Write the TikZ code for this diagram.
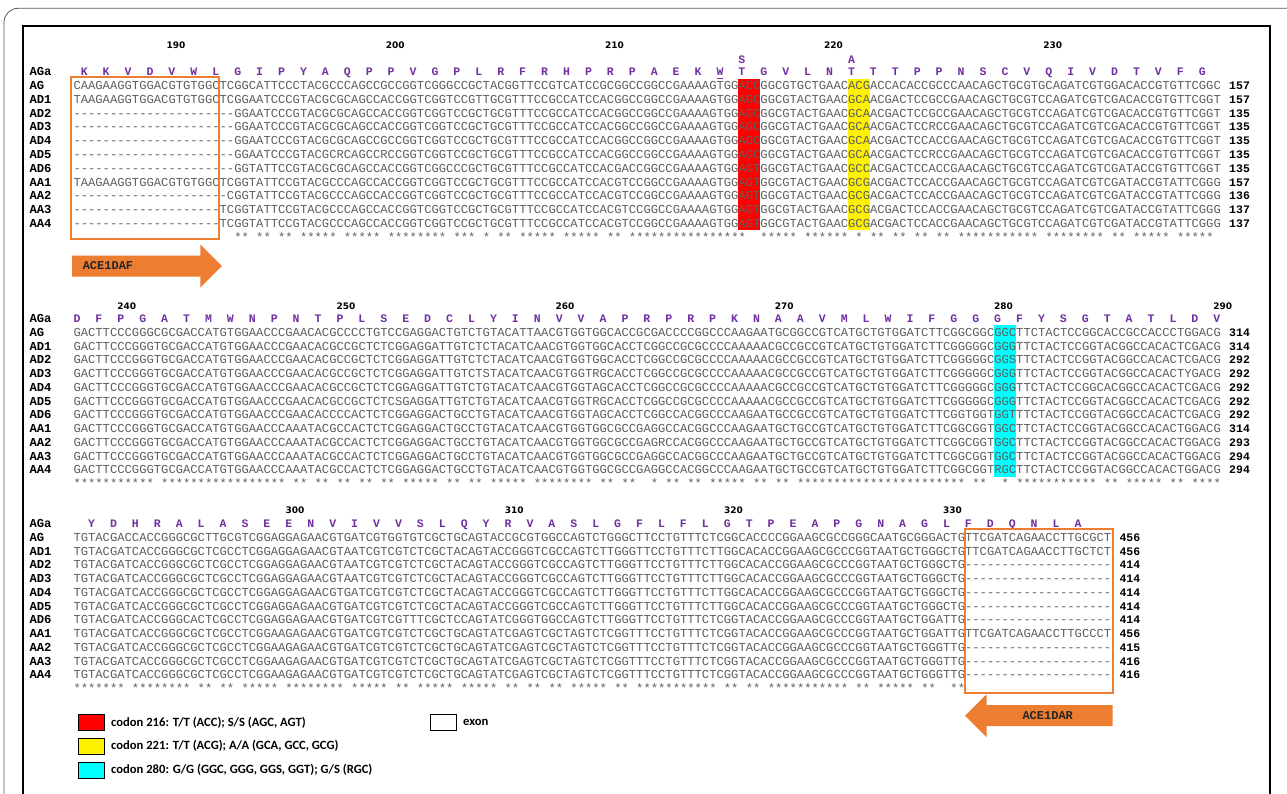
\documentclass[tikz,border=0pt]{standalone}
\usepackage{fontspec}
\setmonofont{Liberation Mono}
\newfontfamily\numfont{DejaVu Sans}
\newfontfamily\lgfont{Carlito}
\definecolor{seqgray}{RGB}{95,95,95}
\definecolor{aapurple}{RGB}{112,48,160}
\definecolor{orng}{RGB}{237,125,49}
\definecolor{hlcyan}{RGB}{0,255,255}
\definecolor{framegray}{RGB}{90,90,90}

% ---------------- block 1 ----------------
\def\Aag{%
CAAGAAGGTGGACGTGTGGCTCGGCATTCCCTACGCCCAGCCGCCGGTCG%
GGCCGCTACGGTTCCGTCATCCGCGGCCGGCCGAAAAGTGGACCGGCGTGCTGAACACG%
ACCACACCGCCCAACAGCTGCGTGCAGATCGTGGACACCGTGTTCGGC}
\def\Aadi{%
TAAGAAGGTGGACGTGTGGCTCGGAATCCCGTACGCGCAGCCACCGGTCG%
GTCCGTTGCGTTTCCGCCATCCACGGCCGGCCGAAAAGTGGAGCGGCGTACTGAACGCA%
ACGACTCCGCCGAACAGCTGCGTCCAGATCGTCGACACCGTGTTCGGT}
\def\Aadii{%
----------------------GGAATCCCGTACGCGCAGCCACCGGTCG%
GTCCGCTGCGTTTCCGCCATCCACGGCCGGCCGAAAAGTGGAGCGGCGTACTGAACGCA%
ACGACTCCGCCGAACAGCTGCGTCCAGATCGTCGACACCGTGTTCGGT}
\def\Aadiii{%
----------------------GGAATCCCGTACGCGCAGCCACCGGTCG%
GTCCGCTGCGTTTCCGCCATCCACGGCCGGCCGAAAAGTGGAGCGGCGTACTGAACGCA%
ACGACTCCRCCGAACAGCTGCGTCCAGATCGTCGACACCGTGTTCGGT}
\def\Aadiv{%
----------------------GGAATCCCGTACGCGCAGCCGCCGGTCG%
GTCCGCTGCGTTTCCGCCATCCACGGCCGGCCGAAAAGTGGAGCGGCGTACTGAACGCA%
ACGACTCCACCGAACAGCTGCGTCCAGATCGTCGACACCGTGTTCGGT}
\def\Aadv{%
----------------------GGAATCCCGTACGCRCAGCCRCCGGTCG%
GTCCGCTGCGTTTCCGCCATCCACGGCCGGCCGAAAAGTGGAGCGGCGTACTGAACGCA%
ACGACTCCRCCGAACAGCTGCGTCCAGATCGTCGACACCGTGTTCGGT}
\def\Aadvi{%
----------------------GGTATTCCGTACGCGCAGCCACCGGTCG%
GCCCGCTGCGTTTCCGCCATCCACGACCGGCCGAAAAGTGGAGTGGCGTACTGAACGCC%
ACGACTCCACCGAACAGCTGCGTCCAGATCGTCGATACCGTGTTCGGT}
\def\Aaai{%
TAAGAAGGTGGACGTGTGGCTCGGTATTCCGTACGCCCAGCCACCGGTCG%
GTCCGCTGCGTTTCCGCCATCCACGTCCGGCCGAAAAGTGGAGTGGCGTACTGAACGCG%
ACGACTCCACCGAACAGCTGCGTCCAGATCGTCGATACCGTATTCGGG}
\def\Aaaii{%
---------------------CGGTATTCCGTACGCCCAGCCACCGGTCG%
GTCCGCTGCGTTTCCGCCATCCACGTCCGGCCGAAAAGTGGAGTGGCGTACTGAACGCG%
ACGACTCCACCGAACAGCTGCGTCCAGATCGTCGATACCGTATTCGGG}
\def\Aaaiii{%
--------------------TCGGTATTCCGTACGCCCAGCCACCGGTCG%
GTCCGCTGCGTTTCCGCCATCCACGTCCGGCCGAAAAGTGGAGTGGCGTACTGAACGCG%
ACGACTCCACCGAACAGCTGCGTCCAGATCGTCGATACCGTATTCGGG}
\def\Aaaiv{%
--------------------TCGGTATTCCGTACGCCCAGCCACCGGTCG%
GTCCGCTGCGTTTCCGCCATCCACGTCCGGCCGAAAAGTGGAGTGGCGTACTGAACGCG%
ACGACTCCACCGAACAGCTGCGTCCAGATCGTCGATACCGTATTCGGG}

% ---------------- block 2 ----------------
\def\Bag{%
GACTTCCCGGGCGCGACCATGTGGAACCCGAACACGCCCCTGTCCGAGGA%
CTGTCTGTACATTAACGTGGTGGCACCGCGACCCCGGCCCAAGAATGCGGCCGTCATGC%
TGTGGATCTTCGGCGGCGGCTTCTACTCCGGCACCGCCACCCTGGACG}
\def\Badi{%
GACTTCCCGGGTGCGACCATGTGGAACCCGAACACGCCGCTCTCGGAGGA%
TTGTCTCTACATCAACGTGGTGGCACCTCGGCCGCGCCCCAAAAACGCCGCCGTCATGC%
TGTGGATCTTCGGGGGCGGGTTCTACTCCGGTACGGCCACACTCGACG}
\def\Badii{%
GACTTCCCGGGTGCGACCATGTGGAACCCGAACACGCCGCTCTCGGAGGA%
TTGTCTCTACATCAACGTGGTGGCACCTCGGCCGCGCCCCAAAAACGCCGCCGTCATGC%
TGTGGATCTTCGGGGGCGGSTTCTACTCCGGTACGGCCACACTCGACG}
\def\Badiii{%
GACTTCCCGGGTGCGACCATGTGGAACCCGAACACGCCGCTCTCGGAGGA%
TTGTCTSTACATCAACGTGGTRGCACCTCGGCCGCGCCCCAAAAACGCCGCCGTCATGC%
TGTGGATCTTCGGGGGCGGGTTCTACTCCGGTACGGCCACACTYGACG}
\def\Badiv{%
GACTTCCCGGGTGCGACCATGTGGAACCCGAACACGCCGCTCTCGGAGGA%
TTGTCTGTACATCAACGTGGTAGCACCTCGGCCGCGCCCCAAAAACGCCGCCGTCATGC%
TGTGGATCTTCGGGGGCGGGTTCTACTCCGGCACGGCCACACTCGACG}
\def\Badv{%
GACTTCCCGGGTGCGACCATGTGGAACCCGAACACGCCGCTCTCSGAGGA%
TTGTCTGTACATCAACGTGGTRGCACCTCGGCCGCGCCCCAAAAACGCCGCCGTCATGC%
TGTGGATCTTCGGGGGCGGGTTCTACTCCGGTACGGCCACACTCGACG}
\def\Badvi{%
GACTTCCCGGGTGCGACCATGTGGAACCCGAACACCCCACTCTCGGAGGA%
CTGCCTGTACATCAACGTGGTAGCACCTCGGCCACGGCCCAAGAATGCCGCCGTCATGC%
TGTGGATCTTCGGTGGTGGTTTCTACTCCGGTACGGCCACACTCGACG}
\def\Baai{%
GACTTCCCGGGTGCGACCATGTGGAACCCAAATACGCCACTCTCGGAGGA%
CTGCCTGTACATCAACGTGGTGGCGCCGAGGCCACGGCCCAAGAATGCTGCCGTCATGC%
TGTGGATCTTCGGCGGTGGCTTCTACTCCGGTACGGCCACACTGGACG}
\def\Baaii{%
GACTTCCCGGGTGCGACCATGTGGAACCCAAATACGCCACTCTCGGAGGA%
CTGCCTGTACATCAACGTGGTGGCGCCGAGRCCACGGCCCAAGAATGCTGCCGTCATGC%
TGTGGATCTTCGGCGGTGGCTTCTACTCCGGTACGGCCACACTGGACG}
\def\Baaiii{%
GACTTCCCGGGTGCGACCATGTGGAACCCAAATACGCCACTCTCGGAGGA%
CTGCCTGTACATCAACGTGGTGGCGCCGAGGCCACGGCCCAAGAATGCTGCCGTCATGC%
TGTGGATCTTCGGCGGTGGCTTCTACTCCGGTACGGCCACACTGGACG}
\def\Baaiv{%
GACTTCCCGGGTGCGACCATGTGGAACCCAAATACGCCACTCTCGGAGGA%
CTGCCTGTACATCAACGTGGTGGCGCCGAGGCCACGGCCCAAGAATGCTGCCGTCATGC%
TGTGGATCTTCGGCGGTRGCTTCTACTCCGGTACGGCCACACTGGACG}

% ---------------- block 3 ----------------
\def\Cag{%
TGTACGACCACCGGGCGCTTGCGTCGGAGGAGAACGTGATCGTGGTGTCG%
CTGCAGTACCGCGTGGCCAGTCTGGGCTTCCTGTTTCTCGGCACCCCGGAAGCGCCGGG%
CAATGCGGGACTGTTCGATCAGAACCTTGCGCT}
\def\Cadi{%
TGTACGATCACCGGGCGCTCGCCTCGGAGGAGAACGTAATCGTCGTCTCG%
CTACAGTACCGGGTCGCCAGTCTTGGGTTCCTGTTTCTTGGCACACCGGAAGCGCCCGG%
TAATGCTGGGCTGTTCGATCAGAACCTTGCTCT}
\def\Cadii{%
TGTACGATCACCGGGCGCTCGCCTCGGAGGAGAACGTAATCGTCGTCTCG%
CTACAGTACCGGGTCGCCAGTCTTGGGTTCCTGTTTCTTGGCACACCGGAAGCGCCCGG%
TAATGCTGGGCTG--------------------}
\def\Cadiii{%
TGTACGATCACCGGGCGCTCGCCTCGGAGGAGAACGTAATCGTCGTCTCG%
CTACAGTACCGGGTCGCCAGTCTTGGGTTCCTGTTTCTTGGCACACCGGAAGCGCCCGG%
TAATGCTGGGCTG--------------------}
\def\Cadiv{%
TGTACGATCACCGGGCGCTCGCCTCGGAGGAGAACGTGATCGTCGTCTCG%
CTACAGTACCGGGTCGCCAGTCTTGGGTTCCTGTTTCTTGGCACACCGGAAGCGCCCGG%
TAATGCTGGGCTG--------------------}
\def\Cadv{%
TGTACGATCACCGGGCGCTCGCCTCGGAGGAGAACGTGATCGTCGTCTCG%
CTACAGTACCGGGTCGCCAGTCTTGGGTTCCTGTTTCTTGGCACACCGGAAGCGCCCGG%
TAATGCTGGGCTG--------------------}
\def\Cadvi{%
TGTACGATCACCGGGCACTCGCCTCGGAGGAGAACGTGATCGTCGTTTCG%
CTCCAGTATCGGGTGGCCAGTCTTGGGTTCCTGTTTCTCGGTACACCGGAAGCGCCCGG%
TAATGCTGGATTG--------------------}
\def\Caai{%
TGTACGATCACCGGGCGCTCGCCTCGGAAGAGAACGTGATCGTCGTCTCG%
CTGCAGTATCGAGTCGCTAGTCTCGGTTTCCTGTTTCTCGGTACACCGGAAGCGCCCGG%
TAATGCTGGATTGTTCGATCAGAACCTTGCCCT}
\def\Caaii{%
TGTACGATCACCGGGCGCTCGCCTCGGAAGAGAACGTGATCGTCGTCTCG%
CTGCAGTATCGAGTCGCTAGTCTCGGTTTCCTGTTTCTCGGTACACCGGAAGCGCCCGG%
TAATGCTGGGTTG--------------------}
\def\Caaiii{%
TGTACGATCACCGGGCGCTCGCCTCGGAAGAGAACGTGATCGTCGTCTCG%
CTGCAGTATCGAGTCGCTAGTCTCGGTTTCCTGTTTCTCGGTACACCGGAAGCGCCCGG%
TAATGCTGGGTTG--------------------}
\def\Caaiv{%
TGTACGATCACCGGGCGCTCGCCTCGGAAGAGAACGTGATCGTCGTCTCG%
CTGCAGTATCGAGTCGCTAGTCTCGGTTTCCTGTTTCTCGGTACACCGGAAGCGCCCGG%
TAATGCTGGGTTG--------------------}

\ExplSyntaxOn
\seq_new:N \l__cons_rows_seq
\tl_new:N \l__cons_first_tl
\tl_new:N \l__cons_out_tl
\bool_new:N \l__cons_ok_bool
\cs_generate_variant:Nn \seq_set_from_clist:Nn { Ne }
\NewDocumentCommand \ConsLine { m }
  {
    \seq_set_from_clist:Ne \l__cons_rows_seq
      {
        \use:c {#1ag}, \use:c {#1adi}, \use:c {#1adii}, \use:c {#1adiii},
        \use:c {#1adiv}, \use:c {#1adv}, \use:c {#1advi}, \use:c {#1aai},
        \use:c {#1aaii}, \use:c {#1aaiii}, \use:c {#1aaiv}
      }
    \seq_get_left:NN \l__cons_rows_seq \l__cons_first_tl
    \tl_clear:N \l__cons_out_tl
    \int_step_inline:nn { \tl_count:N \l__cons_first_tl }
      {
        \bool_set_true:N \l__cons_ok_bool
        \str_if_eq:eeT { \tl_item:Nn \l__cons_first_tl {##1} } { - }
          { \bool_set_false:N \l__cons_ok_bool }
        \seq_map_inline:Nn \l__cons_rows_seq
          {
            \str_if_eq:eeF { \tl_item:nn {####1} {##1} }
              { \tl_item:Nn \l__cons_first_tl {##1} }
              { \bool_set_false:N \l__cons_ok_bool }
          }
        \bool_if:NTF \l__cons_ok_bool
          { \tl_put_right:Nn \l__cons_out_tl { * } }
          { \tl_put_right:Nn \l__cons_out_tl { \phantom{*} } }
      }
    \tl_use:N \l__cons_out_tl
  }
\ExplSyntaxOff

\tikzset{
  sq/.style={font=\ttfamily\fontsize{12.18}{14}\selectfont, text=seqgray, inner sep=0pt, anchor=base west},
  lbl/.style={font=\ttfamily\bfseries\fontsize{12.2}{14}\selectfont, text=black, inner sep=0pt, anchor=base west},
  cnt/.style={font=\ttfamily\bfseries\fontsize{11.5}{14}\selectfont, text=black, inner sep=0pt, anchor=base west},
  aa/.style={font=\ttfamily\bfseries\fontsize{11.5}{14}\selectfont, text=aapurple, inner sep=0pt, anchor=base},
  posn/.style={font=\numfont\bfseries\fontsize{9}{11}\selectfont, text=black, inner sep=0pt, anchor=base},
  primer/.style={font=\ttfamily\bfseries\fontsize{12}{14}\selectfont, text=black!85, inner sep=0pt},
  lgbox/.style={draw=black, line width=0.9pt},
  lgtext/.style={font=\lgfont\bfseries\fontsize{12.6}{14}\selectfont, text=black, inner sep=0pt, anchor=west},
  exonbox/.style={draw=orng, line width=2pt}
}

\newcommand\SeqBlock[4]{%
  \foreach \lab/\nm [count=\i from 0] in {AG/ag,AD1/adi,AD2/adii,AD3/adiii,AD4/adiv,AD5/adv,AD6/advi,AA1/aai,AA2/aaii,AA3/aaiii,AA4/aaiv}{
    \pgfmathsetmacro\yy{#2+13.76*\i+4}
    \node[lbl] (#1lab\i) at (29.3,\yy) {\lab};
    \node[sq] (#1row\i) at (73.3,\yy) {\csname #1\nm\endcsname};
  }
  \foreach \n [count=\i from 0] in {#4}{
    \pgfmathsetmacro\yy{#2+13.76*\i+4}
    \node[cnt] (#1cnt\i) at (#3,\yy) {\n};
  }
  \pgfmathsetmacro\yy{#2+13.76*11+4}
  \node[sq] (#1cons) at (73.3,\yy) {\ConsLine{#1}};
  \pgfmathsetmacro\yy{#2-13.76+4}
  \node[lbl] (#1aga) at (29.3,\yy) {AGa};
}
\newcommand\AArow[4]{%
  \foreach \c [count=\k from 0] in {#4}{
    \node[aa] (#1\k) at ({73.3+(#2+3*\k+0.5)*7.307},#3) {\c};
  }
}
\newcommand\PosRow[4]{%
  \foreach \n [count=\k from 0] in {#4}{
    \node[posn] (#1\k) at ({#2+219.2*\k},#3) {\n};
  }
}

\begin{document}
\begin{tikzpicture}[x=1pt,y=-1pt]
\useasboundingbox (0,0) rectangle (1287,793);
\clip (0,0) rectangle (1287,793);
\fill[white] (0,0) rectangle (1287,793);

% frames
\draw[framegray, line width=0.8pt, rounded corners=14pt] (4,850) -- (4,8.3) -- (1300,8.3);
\draw[black, line width=2.4pt] (22.7,850) -- (22.7,26) -- (1270,26) -- (1270,850);

% highlights
\fill[red] ({73.3+91*7.307},78.8) rectangle ({73.3+94*7.307},230.2);
\fill[yellow] ({73.3+106*7.307},78.8) rectangle ({73.3+109*7.307},230.2);
\fill[hlcyan] ({73.3+126*7.307},325.4) rectangle ({73.3+129*7.307},477);

% block 1
\PosRow{pA}{176}{48.3}{190,200,210,220,230}
\node[aa] (subS) at ({73.3+91.5*7.307},63) {S};
\node[aa] (subA) at ({73.3+106.5*7.307},63) {A};
\AArow{aA}{1}{75.9}{K,K,V,D,V,W,L,G,I,P,Y,A,Q,P,P,V,G,P,L,R,F,R,H,P,R,P,A,E,K,W,T,G,V,L,N,T,T,T,P,P,N,S,C,V,Q,I,V,D,T,V,F,G}
\draw[aapurple, line width=0.9pt] ({73.3+88*7.307+0.5},78) -- ({73.3+89*7.307-0.5},78);
\SeqBlock{A}{85.7}{1229}{157,157,135,135,135,135,135,157,136,137,137}

% block 2
\PosRow{pB}{126.7}{309.3}{240,250,260,270,280,290}
\AArow{aB}{0}{322.5}{D,F,P,G,A,T,M,W,N,P,N,T,P,L,S,E,D,C,L,Y,I,N,V,V,A,P,R,P,R,P,K,N,A,A,V,M,L,W,I,F,G,G,G,F,Y,S,G,T,A,T,L,D,V}
\SeqBlock{B}{332.3}{1229}{314,314,292,292,292,292,292,314,293,294,294}

% block 3
\PosRow{pC}{295}{513.3}{300,310,320,330}
\AArow{aC}{2}{527.5}{Y,D,H,R,A,L,A,S,E,E,N,V,I,V,V,S,L,Q,Y,R,V,A,S,L,G,F,L,F,L,G,T,P,E,A,P,G,N,A,G,L,F,D,Q,N,L,A}
\SeqBlock{C}{537.3}{1119.3}{456,456,414,414,414,414,414,456,415,416,416}

% exon boxes
\draw[exonbox] (71,77) rectangle (219,239);
\draw[exonbox] (965,529) rectangle (1113,693);

% primer arrows
\fill[orng] (72,255.5) -- (200.3,255.5) -- (200.3,244.5) -- (222,266) -- (200.3,287.5) -- (200.3,276.5) -- (72,276.5) -- cycle;
\node[primer] (daf) at (108,266) {ACE1DAF};
\fill[orng] (1112.7,705) -- (986.7,705) -- (986.7,694.3) -- (965,715.7) -- (986.7,737.3) -- (986.7,726) -- (1112.7,726) -- cycle;
\node[primer] (dar) at (1047.7,715.7) {ACE1DAR};

% legend
\draw[lgbox, fill=red] (78,714.5) rectangle (104.5,730.5);
\node[lgtext] (l1) at (111,722.5) {codon 216: T/T (ACC); S/S (AGC, AGT)};
\draw[lgbox, fill=yellow] (78,738) rectangle (104.5,754);
\node[lgtext] (l2) at (111,746) {codon 221: T/T (ACG); A/A (GCA, GCC, GCG)};
\draw[lgbox, fill=hlcyan] (78,762) rectangle (104.5,778);
\node[lgtext] (l3) at (111,770) {codon 280: G/G (GGC, GGG, GGS, GGT); G/S (RGC)};
\draw[lgbox, fill=white] (430,714.5) rectangle (456.5,730.5);
\node[lgtext] (l4) at (463,722.5) {exon};
\end{tikzpicture}
\end{document}
